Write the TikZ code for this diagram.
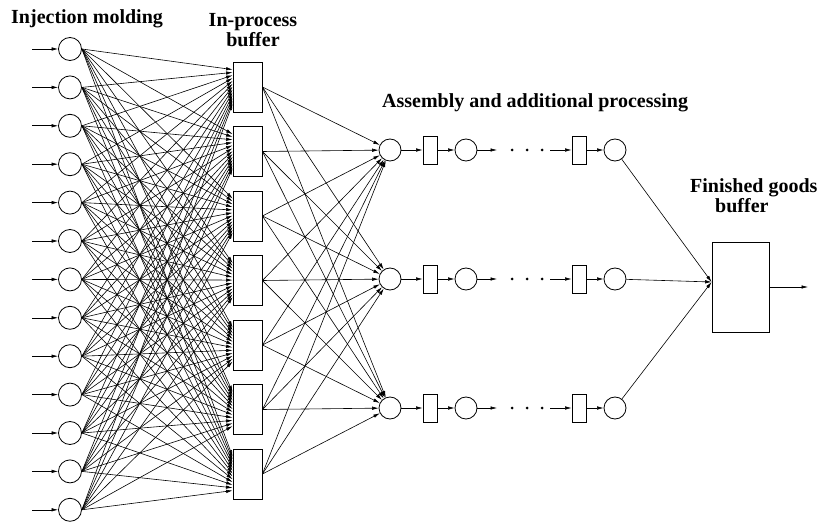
\documentclass[tikz,border=0pt]{standalone}
\usepackage{fontspec}
\setmainfont{Liberation Serif}
\usepackage{tikz}
\usetikzlibrary{arrows.meta,calc}

\tikzset{
  mach/.style={circle, draw, line width=0.8pt, minimum size=23pt, inner sep=0pt},
  amach/.style={circle, draw, line width=0.8pt, minimum size=22pt, inner sep=0pt},
  buf/.style={rectangle, draw, line width=0.8pt, minimum width=29pt, minimum height=50pt, inner sep=0pt},
  sbuf/.style={rectangle, draw, line width=0.8pt, minimum width=14pt, minimum height=28pt, inner sep=0pt},
  dot/.style={circle, fill, minimum size=3pt, inner sep=0pt},
  flow/.style={-{Latex[length=6.5pt,width=3.5pt]}, line width=0.6pt},
  lbl/.style={font=\bfseries\fontsize{20}{24}\selectfont, inner sep=0pt},
}

\begin{document}
\begin{tikzpicture}[x=1pt, y=-1pt]
  \useasboundingbox (0,0) rectangle (823,524);

  % injection molding machines
  \foreach \i in {1,...,13} {
    \node (m\i) [mach] at (70, {49+(\i-1)*38.4}) {};
    \coordinate (in\i) at (32, {49+(\i-1)*38.4});
    \draw[flow] (in\i) -- (m\i);
  }

  % in-process buffers
  \foreach \j in {1,...,7}
    \node (b\j) [buf] at (247.5, {87+(\j-1)*64.5}) {};

  % every machine feeds every buffer
  \foreach \i in {1,...,13}
    \foreach \j in {1,...,7}
      \draw[flow] (m\i.east) -- ($(b\j.north west)+(0,{8+(\i-1)*34/12})$);

  % assembly lines
  \foreach \r/\y in {1/150, 2/279, 3/408} {
    \node (a\r) [amach] at (390,\y) {};
    \node (s\r) [sbuf] at (430,\y) {};
    \node (c\r) [amach] at (466,\y) {};
    \coordinate (o\r) at (497,\y);
    \foreach \k/\x in {1/512, 2/527, 3/542}
      \node (d\r-\k) [dot] at (\x,\y) {};
    \coordinate (p\r) at (550,\y);
    \node (t\r) [sbuf] at (579,\y) {};
    \node (e\r) [amach] at (615,\y) {};
    \draw[flow] (a\r) -- (s\r);
    \draw[flow] (s\r) -- (c\r);
    \draw[flow] (c\r) -- (o\r);
    \draw[flow] (p\r) -- (t\r);
    \draw[flow] (t\r) -- (e\r);
  }

  % buffers to assembly
  \foreach \j in {1,...,7}
    \foreach \r in {1,2,3}
      \draw[flow] (b\j.east) -- (a\r);

  % finished goods
  \node (fg) [buf, minimum width=57pt, minimum height=90pt] at (740.5,287) {};
  \coordinate (fgin) at ($(fg.west)+(0,-5)$);
  \coordinate (out) at (808,287);
  \foreach \r in {1,2,3}
    \draw[flow] (e\r) -- (fgin);
  \draw[flow] (fg) -- (out);

  % labels
  \node (lim) [lbl, anchor=base west] at (11,24) {Injection molding};
  \node (lib) [lbl, anchor=north, align=center] at (253,13) {In-process\\[-4pt]buffer};
  \node (las) [lbl, anchor=base west] at (382,108) {Assembly and additional processing};
  \node (lfg) [lbl, anchor=north west, align=left] at (690,178) {Finished goods\\[-4pt]\hspace*{25pt}buffer};
\end{tikzpicture}
\end{document}
